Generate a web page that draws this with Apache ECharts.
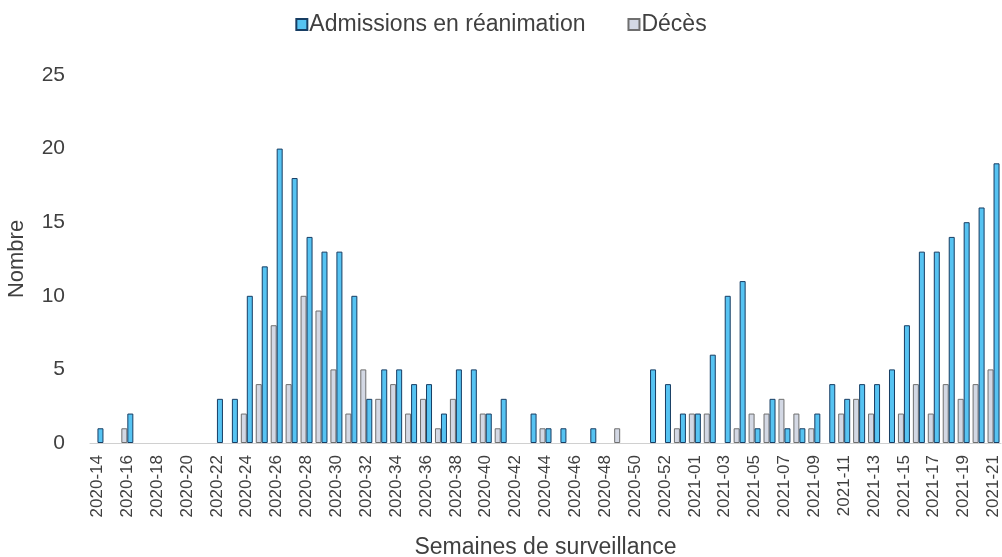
<!DOCTYPE html>
<html>
<head>
<meta charset="utf-8">
<script src="https://cdn.jsdelivr.net/npm/echarts@6/dist/echarts.min.js"></script>
<style>html,body{margin:0;padding:0;background:#fff}#c{width:1002px;height:557px}</style>
</head>
<body>
<div id="c"></div>
<script>
const weeks = (function(){
  const w = [];
  for (let i = 14; i <= 53; i++) w.push('2020-' + String(i).padStart(2,'0'));
  for (let i = 1; i <= 21; i++) w.push('2021-' + String(i).padStart(2,'0'));
  return w;
})();
const admissions = [1,0,2,0,0,0,0,0,3,3,10,12,20,18,14,13,13,10,3,5,5,4,4,2,5,5,2,3,0,2,1,1,0,1,0,0,0,5,4,2,2,6,10,11,1,3,1,1,2,4,3,4,4,5,8,13,13,14,15,16,19];
const deces =      [0,0,1,0,0,0,0,0,0,0,2,4,8,4,10,9,5,2,5,3,4,2,3,1,3,0,2,1,0,0,1,0,0,0,0,1,0,0,0,1,2,2,0,1,2,2,3,2,1,0,2,3,2,0,2,4,2,4,3,4,5];
const yTicks = [0,5,10,15,20,25];

// zero weeks draw no bar
const noZero = arr => arr.map(v => v === 0 ? '-' : v);

const font = '"Liberation Sans", Arial, sans-serif';
const txt = '#404040';
const chart = echarts.init(document.getElementById('c'));
chart.setOption({
  animation: false,
  backgroundColor: '#fff',
  textStyle: { fontFamily: font },
  legend: {
    top: 8, left: 'center',
    data: ['Admissions en réanimation', 'Décès'],
    icon: 'rect', itemWidth: 11, itemHeight: 11, itemGap: 42,
    textStyle: { fontFamily: font, fontSize: 23, color: txt, padding: [0,0,0,-3] }
  },
  grid: { left: 90, right: 1, top: 75, bottom: 114, containLabel: false, outerBoundsMode: 'none' },
  xAxis: {
    type: 'category', data: weeks,
    name: 'Semaines de surveillance', nameLocation: 'middle', nameGap: 93,
    nameTextStyle: { fontFamily: font, fontSize: 23, color: txt },
    axisLine: { lineStyle: { color: '#d0d0d0', width: 1 } },
    axisTick: { show: false },
    axisLabel: { interval: 1, rotate: 90, margin: 12, fontFamily: font, fontSize: 17, color: txt }
  },
  yAxis: {
    type: 'value', min: yTicks[0], max: yTicks[yTicks.length-1], interval: 5,
    name: 'Nombre', nameLocation: 'middle', nameGap: 62, nameRotate: 90,
    nameTextStyle: { fontFamily: font, fontSize: 22, color: txt },
    splitLine: { show: false },
    axisLine: { show: false }, axisTick: { show: false },
    axisLabel: { margin: 25, fontFamily: font, fontSize: 21, color: txt }
  },
  series: [
    {
      name: 'Décès', type: 'bar', data: noZero(deces),
      barWidth: 6, barGap: '0%',
      itemStyle: { color: '#D3D8E4', borderColor: '#6f6f6f', borderWidth: 1 }
    },
    {
      name: 'Admissions en réanimation', type: 'bar', data: noZero(admissions),
      barWidth: 6,
      itemStyle: { color: '#56C3F2', borderColor: '#173d63', borderWidth: 1 }
    }
  ]
});
</script>
</body>
</html>
